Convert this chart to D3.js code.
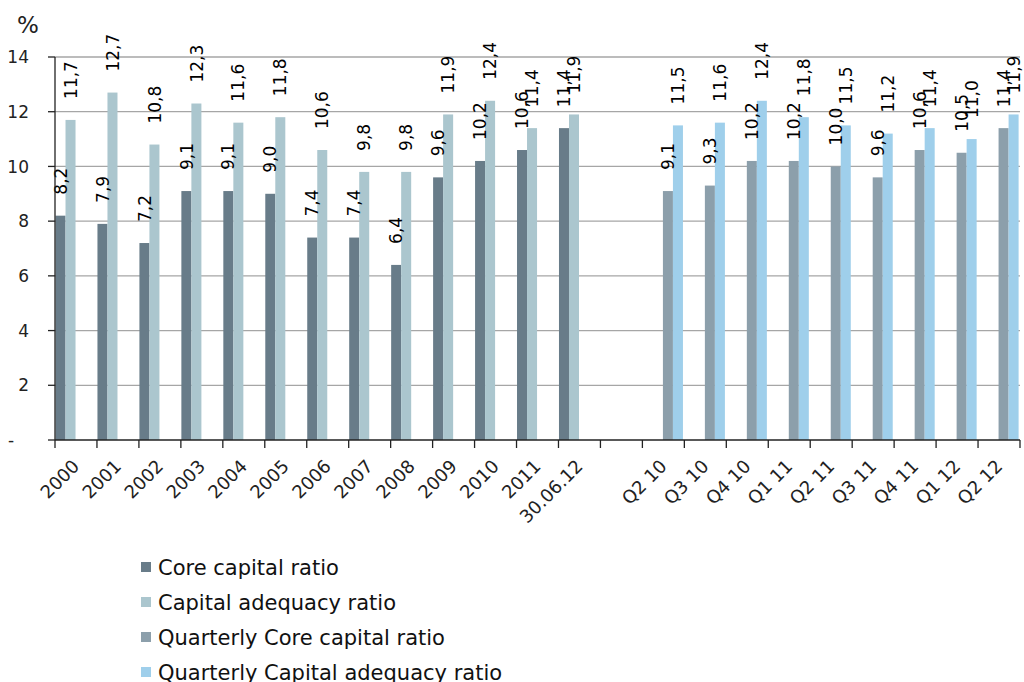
<!DOCTYPE html>
<html>
<head>
<meta charset="utf-8">
<script src="https://cdn.jsdelivr.net/npm/d3@7/dist/d3.min.js"></script>
<style>
  html, body { margin: 0; padding: 0; background: #fff; }
  svg { display: block; font-family: "DejaVu Sans", Verdana, sans-serif; }
</style>
</head>
<body>
<svg id="chart" width="1024" height="682"></svg>
<script>
// Category axis: annual points, a spacer slot, then quarters
const annualCategories = ["2000","2001","2002","2003","2004","2005","2006","2007","2008","2009","2010","2011","30.06.12"];
const spacerCategory = [" "];
const quarterCategories = ["Q2 10","Q3 10","Q4 10","Q1 11","Q2 11","Q3 11","Q4 11","Q1 12","Q2 12"];

// Ratios, %
const coreCapital     = [8.2, 7.9, 7.2, 9.1, 9.1, 9.0, 7.4, 7.4, 6.4, 9.6, 10.2, 10.6, 11.4];
const capitalAdequacy = [11.7, 12.7, 10.8, 12.3, 11.6, 11.8, 10.6, 9.8, 9.8, 11.9, 12.4, 11.4, 11.9];
const quarterlyCore     = [9.1, 9.3, 10.2, 10.2, 10.0, 9.6, 10.6, 10.5, 11.4];
const quarterlyAdequacy = [11.5, 11.6, 12.4, 11.8, 11.5, 11.2, 11.4, 11.0, 11.9];

const yTicks = [0, 2, 4, 6, 8, 10, 12, 14];

const seriesNames = ["Core capital ratio", "Capital adequacy ratio",
                     "Quarterly Core capital ratio", "Quarterly Capital adequacy ratio"];
const seriesColors = ["#687c89", "#abc6ce", "#8c9fab", "#9fcfeb"];

(function draw() {
  const categories = annualCategories.concat(spacerCategory, quarterCategories);

  const bars = [];
  annualCategories.forEach((c, i) => {
    bars.push({cat: c, s: 0, v: coreCapital[i]});
    bars.push({cat: c, s: 1, v: capitalAdequacy[i]});
  });
  quarterCategories.forEach((c, i) => {
    bars.push({cat: c, s: 2, v: quarterlyCore[i]});
    bars.push({cat: c, s: 3, v: quarterlyAdequacy[i]});
  });

  const svg = d3.select("#chart");
  const plotLeft = 55, plotRight = 1020, plotTop = 57, plotBottom = 440;

  const x = d3.scaleBand().domain(categories).range([plotLeft, plotRight]).padding(0);
  const slot = d3.scaleBand().domain([0, 1, 2, 3]).range([0.5, x.bandwidth() - 1.4]).padding(0);
  const y = d3.scaleLinear().domain([0, 14]).range([plotBottom, plotTop]);

  const fmt = v => d3.format(".1f")(v).replace(".", ",");

  // horizontal gridlines
  svg.append("g")
    .selectAll("line")
    .data(yTicks.filter(t => t > 0))
    .join("line")
    .attr("x1", plotLeft).attr("x2", plotRight)
    .attr("y1", d => y(d)).attr("y2", d => y(d))
    .attr("stroke", "#a6a6a6").attr("stroke-width", 1.3);

  // bars
  svg.append("g")
    .selectAll("rect")
    .data(bars)
    .join("rect")
    .attr("x", d => x(d.cat) + slot(d.s))
    .attr("width", slot.bandwidth())
    .attr("y", d => y(d.v))
    .attr("height", d => y(0) - y(d.v))
    .attr("fill", d => seriesColors[d.s]);

  // value labels, vertical, above each bar
  svg.append("g")
    .selectAll("text")
    .data(bars)
    .join("text")
    .attr("transform", d => `translate(${x(d.cat) + slot(d.s) + slot.bandwidth() / 2},${y(d.v) - 21}) rotate(-90)`)
    .attr("dy", "0.36em")
    .attr("font-size", 17)
    .attr("fill", "#000")
    .text(d => fmt(d.v));

  // y axis
  const yAxis = svg.append("g");
  yAxis.append("line")
    .attr("x1", plotLeft).attr("x2", plotLeft)
    .attr("y1", y(14)).attr("y2", y(0))
    .attr("stroke", "#222").attr("stroke-width", 1.3);
  yAxis.selectAll(".tk")
    .data(yTicks)
    .join("line")
    .attr("x1", plotLeft - 7).attr("x2", plotLeft)
    .attr("y1", d => y(d)).attr("y2", d => y(d))
    .attr("stroke", "#222").attr("stroke-width", 1.3);
  yAxis.selectAll(".lbl")
    .data(yTicks)
    .join("text")
    .attr("x", d => d === 0 ? 8 : 29)
    .attr("y", d => y(d))
    .attr("dy", "0.36em")
    .attr("text-anchor", d => d === 0 ? "start" : "end")
    .attr("font-size", 17)
    .attr("fill", "#222")
    .text(d => d === 0 ? "-" : d);
  svg.append("text")
    .attr("x", 28).attr("y", 33)
    .attr("text-anchor", "middle")
    .attr("font-size", 23)
    .attr("fill", "#222")
    .text("%");

  // x axis
  const xAxis = svg.append("g");
  xAxis.append("line")
    .attr("x1", plotLeft).attr("x2", plotRight)
    .attr("y1", plotBottom).attr("y2", plotBottom)
    .attr("stroke", "#222").attr("stroke-width", 1.3);
  const boundaries = categories.map(c => x(c)).concat([plotRight]);
  xAxis.selectAll(".tk")
    .data(boundaries)
    .join("line")
    .attr("x1", d => d).attr("x2", d => d)
    .attr("y1", plotBottom).attr("y2", plotBottom + 8)
    .attr("stroke", "#222").attr("stroke-width", 1.3);
  xAxis.selectAll(".lbl")
    .data(categories)
    .join("text")
    .attr("transform", d => `translate(${x(d) + x.bandwidth() / 2},${plotBottom + 23}) rotate(-45)`)
    .attr("text-anchor", "end")
    .attr("dy", "0.35em")
    .attr("font-size", 18)
    .attr("fill", "#222")
    .text(d => d.trim());

  // legend
  const legend = svg.append("g").attr("transform", "translate(141,567)");
  const item = legend.selectAll("g")
    .data(seriesNames)
    .join("g")
    .attr("transform", (d, i) => `translate(0,${i * 35})`);
  item.append("rect")
    .attr("x", 0).attr("y", -5)
    .attr("width", 10).attr("height", 10)
    .attr("fill", (d, i) => seriesColors[i]);
  item.append("text")
    .attr("x", 17).attr("y", 0)
    .attr("dy", "0.36em")
    .attr("font-size", 21)
    .attr("fill", "#111")
    .text(d => d);
})();
</script>
</body>
</html>
